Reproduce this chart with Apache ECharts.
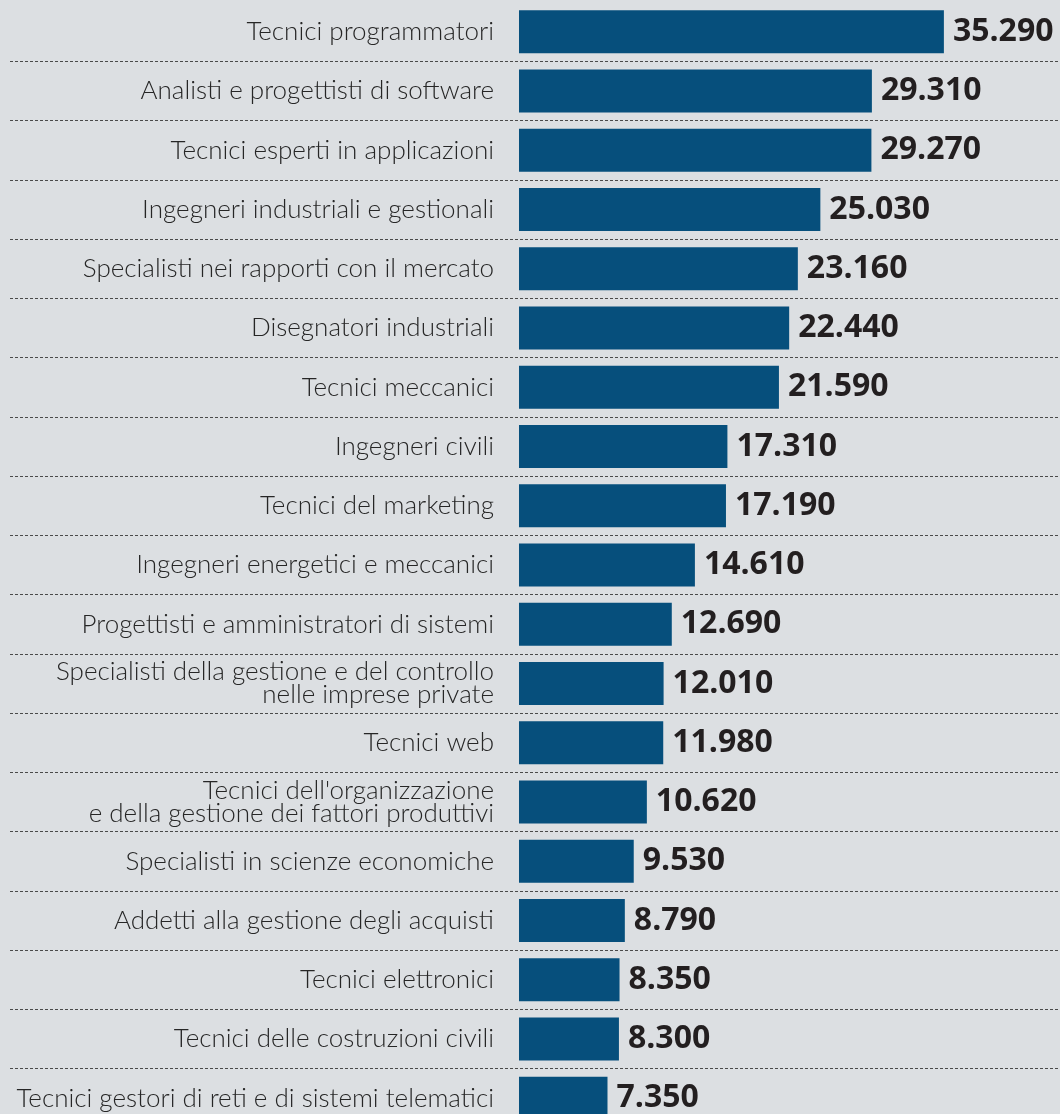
<!DOCTYPE html>
<html><head><meta charset="utf-8">
<script src="https://cdn.jsdelivr.net/npm/echarts@6/dist/echarts.min.js"></script>
<style>html,body{margin:0;padding:0;background:#dcdfe2;overflow:hidden;}#c{width:1060px;height:1130px;}</style>
</head><body><div id="c"></div>
<script>
const categories = [
  "Tecnici programmatori",
  "Analisti e progettisti di software",
  "Tecnici esperti in applicazioni",
  "Ingegneri industriali e gestionali",
  "Specialisti nei rapporti con il mercato",
  "Disegnatori industriali",
  "Tecnici meccanici",
  "Ingegneri civili",
  "Tecnici del marketing",
  "Ingegneri energetici e meccanici",
  "Progettisti e amministratori di sistemi",
  "Specialisti della gestione e del controllo\nnelle imprese private",
  "Tecnici web",
  "Tecnici dell'organizzazione\ne della gestione dei fattori produttivi",
  "Specialisti in scienze economiche",
  "Addetti alla gestione degli acquisti",
  "Tecnici elettronici",
  "Tecnici delle costruzioni civili",
  "Tecnici gestori di reti e di sistemi telematici"
];
const values = [35290, 29310, 29270, 25030, 23160, 22440, 21590, 17310, 17190, 14610, 12690, 12010, 11980, 10620, 9530, 8790, 8350, 8300, 7350];

function fmt(v){ return String(v).replace(/\B(?=(\d{3})+(?!\d))/g, '.'); }

const chart = echarts.init(document.getElementById('c'), null, {renderer:'canvas'});
chart.setOption({
  backgroundColor: '#dcdfe2',
  animation: false,
  grid: { left: 10, right: 0, top: 2, height: 1126, containLabel: false, outerBoundsMode: 'none' },
  xAxis: {
    type: 'value', min: -42276, max: 44934,
    show: false, splitLine: { show: false }
  },
  yAxis: {
    type: 'category', inverse: true, data: categories,
    offset: -509,
    axisLine: { show: false }, axisTick: { show: false },
    axisLabel: {
      margin: 25, fontSize: 26, color: '#262626', lineHeight: 23,
      fontFamily: 'Lato', fontWeight: 300, align: 'right'
    },
    splitLine: {
      show: true,
      interval: function(i){ return i > 0; },
      lineStyle: { color: '#4a4a4a', width: 1, type: [3, 2] }
    }
  },
  series: [{
    type: 'bar', data: values, barWidth: 43,
    itemStyle: { color: '#064f7c' },
    label: {
      show: true, position: 'right', distance: 9,
      formatter: p => fmt(p.value),
      fontSize: 32, fontWeight: 'bold', fontFamily: 'Open Sans', color: '#231f20'
    }
  }]
});
</script></body></html>
